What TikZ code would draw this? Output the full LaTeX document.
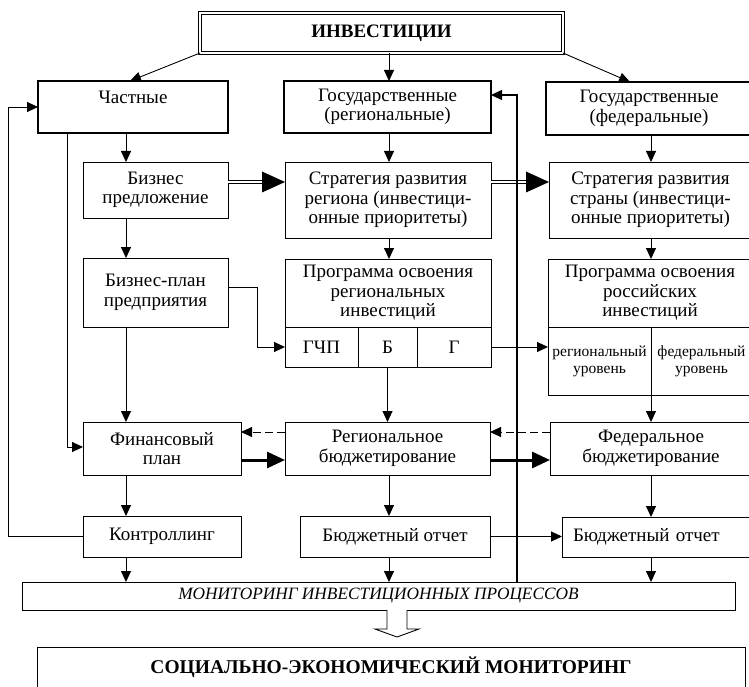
\documentclass[tikz,border=0pt]{standalone}
\usepackage{fontspec}
\setmainfont{Liberation Serif}
\usetikzlibrary{arrows.meta,calc}
\newcommand\fsA{\fontsize{19}{19.5}\selectfont}
\newcommand\fsS{\fontsize{15.5}{17}\selectfont}
\newcommand\mkbox[7]{\node[#6, minimum width={#4pt-#2pt}, minimum height={#5pt-#3pt}] (#1) at (#2,#3) {#7};}
\begin{document}
\begin{tikzpicture}[x=1pt,y=-1pt,
  box/.style={draw, line width=0.9pt, inner sep=0pt, outer sep=0pt, anchor=north west, align=center, font=\fsA},
  hbox/.style={box, line width=1.8pt},
  sbox/.style={box, font=\fsS},
  invbox/.style={box, double, double distance=2pt, line width=0.7pt, font=\bfseries\fontsize{19}{20}\selectfont},
  arr/.style={line width=0.9pt, -{Triangle[length=11pt,width=10pt]}},
  thk/.style={line width=3pt, -{Triangle[length=18pt,width=16pt]}},
  dsh/.style={arr, dash pattern=on 8pt off 4pt},
  dbl/.style={double, double distance=2pt, line width=0.7pt},
  hollow/.style={line width=0.9pt, fill=white}
]
\useasboundingbox (0,0) rectangle (749,687);
\fill[white] (0,0) rectangle (749,687);
\clip (0,0) rectangle (749,687);

\coordinate (cL) at (126,0);
\coordinate (cM) at (389,0);
\coordinate (cR) at (651,0);
\coordinate (xO) at (8,0);
\coordinate (xA) at (67,0);
\coordinate (xB) at (257,0);
\coordinate (xV) at (517,0);
\coordinate (ha) at (397,0);

\mkbox{inv}{200}{13}{563}{53}{invbox}{ИНВЕСТИЦИИ}
\mkbox{chast}{38}{81}{228}{133}{hbox}{Частные\\\mbox{}}
\mkbox{gosreg}{284}{81}{491}{133}{hbox}{Государственные\\(региональные)}
\mkbox{gosfed}{546}{82}{752}{135}{hbox}{Государственные\\(федеральные)}
\mkbox{bizpr}{83}{162}{228}{218}{box}{Бизнес\\предложение}
\mkbox{strreg}{285}{162}{491}{238}{box}{Стратегия развития\\региона (инвестици-\\онные приоритеты)}
\mkbox{strstr}{549}{162}{752}{238}{box}{Стратегия развития\\страны (инвестици-\\онные приоритеты)}
\mkbox{bizplan}{83}{258}{228}{327}{box}{Бизнес-план\\предприятия}
\mkbox{progreg}{285}{259}{491}{327}{box}{Программа освоения\\региональных\\инвестиций}
\mkbox{gchp}{285}{327}{358}{367}{box}{ГЧП}
\mkbox{bb}{358}{327}{417}{367}{box}{Б}
\mkbox{gg}{417}{327}{491}{367}{box}{Г}
\mkbox{progros}{548}{259}{752}{327}{box}{Программа освоения\\российских\\инвестиций}
\mkbox{rosreg}{548}{327}{651}{395}{sbox}{региональный\\уровень}
\mkbox{rosfed}{651}{327}{752}{395}{sbox}{федеральный\\уровень}
\mkbox{fin}{83}{422}{241}{475}{box}{Финансовый\\план}
\mkbox{reg}{285}{422}{490}{475}{box}{Региональное\\бюджетирование}
\mkbox{fed}{550}{422}{752}{475}{box}{Федеральное\\бюджетирование}
\mkbox{kontr}{83}{516}{241}{557}{box}{Контроллинг}
\mkbox{bmid}{300}{516}{490}{557}{box}{Бюджетный отчет}
\mkbox{bright}{562}{517}{752}{557}{box, text width=168pt, inner xsep=11pt, align=left}{Бюджетный отчет}
\mkbox{mon}{22}{582}{735}{610}{box, font=\itshape\fontsize{17.3}{18}\selectfont}{МОНИТОРИНГ ИНВЕСТИЦИОННЫХ ПРОЦЕССОВ}
\mkbox{soc}{37}{647}{745}{688}{box, font=\bfseries\fontsize{19.5}{20}\selectfont}{СОЦИАЛЬНО-ЭКОНОМИЧЕСКИЙ МОНИТОРИНГ}

% from INVESTITSII
\draw[arr] (inv.south west) -- ($(chast.north)+(-3,0)$);
\draw[arr] (cM |- inv.south) -- (cM |- gosreg.north);
\draw[arr] (inv.south east) -- ($(gosfed.north)+(-19,0)$);

% left column
\draw[arr] (cL |- chast.south) -- (cL |- bizpr.north);
\draw[arr] (cL |- bizpr.south) -- (cL |- bizplan.north);
\draw[arr] (cL |- bizplan.south) -- (cL |- fin.north);
\draw[arr] (cL |- fin.south) -- (cL |- kontr.north);
\draw[arr] (cL |- kontr.south) -- (cL |- mon.north);

% middle column
\draw[arr] (cM |- gosreg.south) -- (cM |- strreg.north);
\draw[arr] (cM |- strreg.south) -- (cM |- progreg.north);
\draw[arr] (bb.south) -- (bb.south |- reg.north);
\draw[arr] (cM |- reg.south) -- (cM |- bmid.north);
\draw[arr] (cM |- bmid.south) -- (cM |- mon.north);

% right column
\draw[arr] (cR |- gosfed.south) -- (cR |- strstr.north);
\draw[arr] (cR |- strstr.south) -- (cR |- progros.north);
\draw[arr] (rosreg.south east) -- (rosreg.south east |- fed.north);
\draw[arr] (cR |- fed.south) -- (cR |- bright.north);
\draw[arr] (cR |- bright.south) -- (cR |- mon.north);

% double-line arrows
\draw[dbl] (bizpr.east |- 0,182) -- ($(strreg.west |- 0,182)+(-22,0)$);
\fill (strreg.west |- 0,182) -- ++(-23,-10.5) -- ++(0,21) -- cycle;
\draw[dbl] (strreg.east |- 0,182) -- ($(strstr.west |- 0,182)+(-22,0)$);
\fill (strstr.west |- 0,182) -- ++(-23,-10.5) -- ++(0,21) -- cycle;

% thick and dashed arrows
\draw[thk] (fin.east |- 0,460) -- (reg.west |- 0,460);
\draw[thk] (reg.east |- 0,460) -- (fed.west |- 0,460);
\draw[dsh] (reg.west |- 0,432) -- (fin.east |- 0,432);
\draw[dsh] (fed.west |- 0,432) -- (reg.east |- 0,432);

% other connectors
\draw[arr] (bizplan.east |- 0,287) -| (xB |- gchp.west) -- (gchp.west);
\draw[arr] (gg.east) -- (rosreg.west |- gg.east);
\draw[arr] (bmid.east) -- (bright.west |- bmid.east);
\draw[arr] (kontr.west) -| (xO |- 0,107) -- (chast.west |- 0,107);
\draw[arr] (xA |- chast.south) |- (fin.west |- 0,447);
\draw[arr, line width=1.2pt] (xV |- mon.north) -- (xV |- 0,95) -- (gosreg.east |- 0,95);

% hollow arrow
\draw[hollow] (ha |- mon.south) ++(-10,0) -- ++(0,19) -- ++(-12,0) -- ++(22,8) -- ++(22,-8) -- ++(-12,0) -- ++(0,-19);
\end{tikzpicture}
\end{document}
